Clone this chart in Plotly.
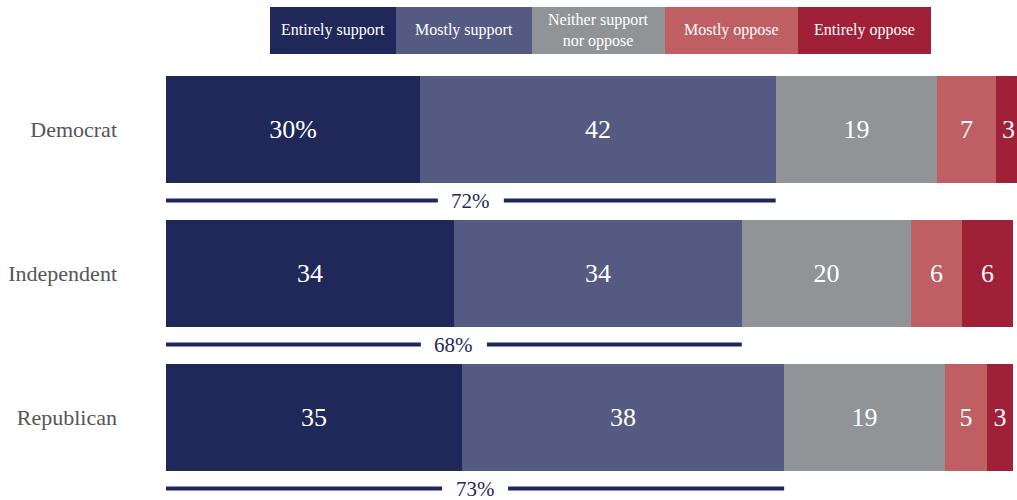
import plotly.graph_objects as go

# Survey results by party (percent)
parties = ["Democrat", "Independent", "Republican"]
responses = ["Entirely support", "Mostly support", "Neither support<br>nor oppose",
             "Mostly oppose", "Entirely oppose"]
entirely_support = [30, 34, 35]
mostly_support = [42, 34, 38]
neither = [19, 20, 19]
mostly_oppose = [7, 6, 5]
entirely_oppose = [3, 6, 3]
total_support_labels = ["72%", "68%", "73%"]

series = [entirely_support, mostly_support, neither, mostly_oppose, entirely_oppose]
colors = ["#1f2858", "#555a82", "#919497", "#c05f63", "#a02038"]

FONT = "Georgia, 'Liberation Serif', serif"
W, H = 1017, 500
LEFT = 166
X_MAX = 100.5
PX_PER_UNIT = (W - LEFT) / X_MAX

fig = go.Figure()
for i, (vals, col) in enumerate(zip(series, colors)):
    labels = [str(v) for v in vals]
    if i == 0:
        labels[0] = f"{vals[0]}%"
    fig.add_trace(go.Bar(
        y=parties, x=vals, orientation="h", marker=dict(color=col, line=dict(width=0)),
        text=labels, textposition="inside", insidetextanchor="middle",
        textfont=dict(family=FONT, size=26, color="white"),
        width=0.743, hoverinfo="skip", showlegend=False,
    ))

# Brackets under each bar spanning the combined support share, split around the label
shapes = []
annotations = []
half_gap = 33 / PX_PER_UNIT
for idx, (p, lab) in enumerate(zip(parties, total_support_labels)):
    span = entirely_support[idx] + mostly_support[idx]
    mid = span / 2
    yb = idx + 0.493
    for xa, xb in [(0, mid - half_gap), (mid + half_gap, span)]:
        shapes.append(dict(type="line", xref="x", yref="y", x0=xa, x1=xb, y0=yb, y1=yb,
                           line=dict(color="#1f2858", width=4)))
    annotations.append(dict(x=mid, y=yb, xref="x", yref="y", text=lab, showarrow=False,
                            font=dict(family=FONT, size=21, color="#1f2858"),
                            xanchor="center", yanchor="middle", yshift=-1))

# Legend row of coloured boxes across the top
edges_px = [270, 396, 532, 665, 798, 931]
top_px, bot_px = 7, 54
for k, (name, col) in enumerate(zip(responses, colors)):
    x0 = (edges_px[k] - LEFT) / (W - LEFT)
    x1 = (edges_px[k + 1] - LEFT) / (W - LEFT)
    shapes.append(dict(type="rect", xref="paper", yref="paper", x0=x0, x1=x1,
                       y0=1 - bot_px / H, y1=1 - top_px / H,
                       fillcolor=col, line=dict(width=0), layer="above"))
    annotations.append(dict(x=(x0 + x1) / 2, y=1 - (top_px + bot_px) / 2 / H,
                            xref="paper", yref="paper", text=name, showarrow=False,
                            font=dict(family=FONT, size=16, color="white"),
                            xanchor="center", yanchor="middle"))

pitch = 144.0
c0 = 129.5
fig.update_layout(
    width=W, height=H, barmode="stack",
    margin=dict(l=LEFT, r=0, t=0, b=0),
    paper_bgcolor="white", plot_bgcolor="white",
    bargap=0,
    xaxis=dict(range=[0, X_MAX], visible=False, fixedrange=True),
    yaxis=dict(categoryorder="array", categoryarray=parties,
               range=[(H - c0) / pitch, -c0 / pitch],
               showgrid=False, zeroline=False, showline=False, ticks="",
               ticklabelstandoff=48,
               tickfont=dict(family=FONT, size=22, color="#555555")),
    shapes=shapes, annotations=annotations,
    uniformtext=dict(mode=False),
)

fig.write_html("out.html")
